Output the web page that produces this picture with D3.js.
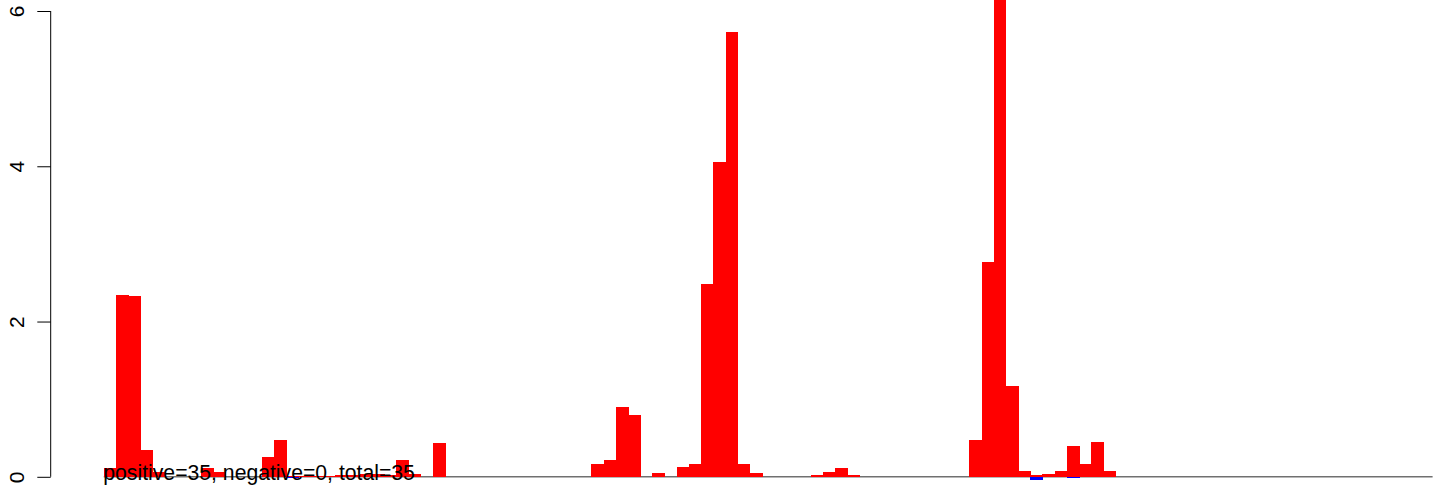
<!DOCTYPE html>
<html>
<head>
<meta charset="utf-8">
<script src="https://cdn.jsdelivr.net/npm/d3@7"></script>
<style>
  html, body { margin: 0; padding: 0; background: #fff; }
  svg { display: block; }
  text { font-family: "Liberation Sans", Arial, Helvetica, sans-serif; }
</style>
</head>
<body>
<svg id="chart" width="1444" height="486"></svg>
<script>
// ---- data ----
const positive = [
  0.115, 2.345, 2.33, 0.34, 0.06, 0, 0, 0, 0.11, 0.06,
  0, 0, 0, 0.26, 0.48, 0.01, 0.01, 0.01, 0.01, 0.02,
  0.02, 0.03, 0.03, 0.02, 0.21, 0.03, 0, 0.43, 0, 0,
  0, 0, 0, 0, 0, 0, 0, 0, 0, 0,
  0.16, 0.21, 0.90, 0.80, 0, 0.055, 0, 0.13, 0.17, 2.485,
  4.055, 5.73, 0.17, 0.055, 0, 0, 0, 0, 0.02, 0.06,
  0.11, 0.02, 0, 0, 0, 0, 0, 0, 0, 0,
  0, 0.48, 2.77, 6.5, 1.175, 0.07, 0.02, 0.03, 0.07, 0.40,
  0.16, 0.45, 0.07, 0, 0, 0, 0, 0, 0, 0,
  0, 0, 0, 0, 0, 0, 0, 0, 0, 0,
  0, 0, 0, 0, 0, 0, 0, 0, 0
];
const negative = [
  0, 0, 0, 0, 0, 0, 0, 0, 0, 0,
  0, 0, 0, 0, 0, -0.02, 0, 0, 0, 0,
  0, 0, 0, 0, 0, 0, 0, 0, 0, 0,
  0, 0, 0, 0, 0, 0, 0, 0, 0, 0,
  0, 0, 0, 0, 0, 0, 0, 0, 0, 0,
  0, 0, 0, 0, 0, 0, 0, 0, 0, 0,
  0, 0, 0, 0, 0, 0, 0, 0, 0, 0,
  0, 0, 0, 0, 0, 0, -0.035, 0, 0, -0.02,
  0, 0, 0, 0, 0, 0, 0, 0, 0, 0,
  0, 0, 0, 0, 0, 0, 0, 0, 0, 0,
  0, 0, 0, 0, 0, 0, 0, 0, 0
];
const categories = positive.map((_, i) => i + 1);
const yTicks = [0, 2, 4, 6];
const summaryLabel = "positive=35, negative=0, total=35";

// ---- layout ----
const svg = d3.select("#chart");
const x = d3.scaleBand().domain(categories).range([103.8, 1432.6]).padding(0);
const y = d3.scaleLinear().domain([0, 6]).range([476.8, 11]);
const axisX = 50.7;

// baseline
svg.append("line")
  .attr("x1", x.range()[0]).attr("x2", x.range()[1])
  .attr("y1", y(0)).attr("y2", y(0))
  .attr("stroke", "#707070").attr("stroke-width", 1.5);

// positive bars
svg.append("g").attr("shape-rendering", "crispEdges").selectAll("rect")
  .data(categories.map((c, i) => ({ c, v: positive[i] })).filter(d => d.v > 0))
  .join("rect")
  .attr("x", d => x(d.c))
  .attr("width", x.bandwidth() + 0.5)
  .attr("y", d => y(d.v))
  .attr("height", d => y(0) - y(d.v))
  .attr("fill", "#ff0000");

// negative bars
svg.append("g").attr("shape-rendering", "crispEdges").selectAll("rect")
  .data(categories.map((c, i) => ({ c, v: negative[i] })).filter(d => d.v < 0))
  .join("rect")
  .attr("x", d => x(d.c))
  .attr("width", x.bandwidth() + 0.5)
  .attr("y", y(0))
  .attr("height", d => y(d.v) - y(0))
  .attr("fill", "#0000ff");

// y axis
const yAxis = d3.axisLeft(y).tickValues(yTicks).tickSize(13.4).tickPadding(0).tickFormat(d3.format("d"));
const gy = svg.append("g").attr("transform", `translate(${axisX},0)`).call(yAxis);
gy.select(".domain").attr("d", `M0,${y(0)}V${y(6)}`).attr("stroke", "#000").attr("stroke-width", 1);
gy.selectAll(".tick line").attr("stroke", "#000").attr("stroke-width", 1);
gy.selectAll(".tick text")
  .attr("x", null).attr("dy", null)
  .attr("transform", "translate(-27,0) rotate(-90)")
  .attr("text-anchor", "middle")
  .attr("fill", "#000")
  .style("font-size", "21px")
  .style("font-family", "'Liberation Sans', Arial, Helvetica, sans-serif");

// summary text
svg.append("text")
  .attr("x", 103.3).attr("y", 479.5)
  .attr("fill", "#000")
  .style("font-size", "21.2px")
  .text(summaryLabel);
</script>
</body>
</html>
